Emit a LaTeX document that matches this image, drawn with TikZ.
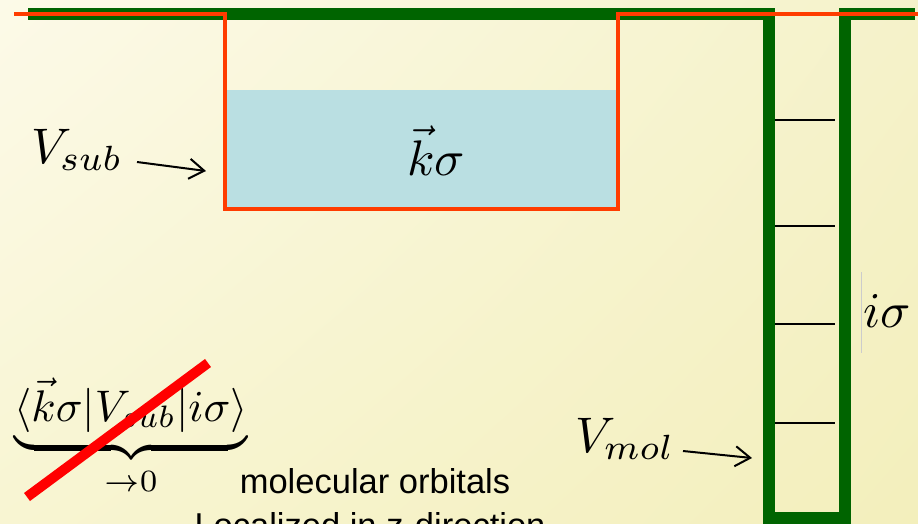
\documentclass[tikz,border=0pt]{standalone}
\usepackage{fontspec}
\setsansfont{Liberation Sans}
\usetikzlibrary{arrows.meta,shadings}
\definecolor{bgTL}{RGB}{252,250,232}
\definecolor{bgTR}{RGB}{245,242,202}
\definecolor{bgBL}{RGB}{248,245,210}
\definecolor{bgBR}{RGB}{243,239,188}
\definecolor{wellgreen}{RGB}{0,100,0}
\definecolor{suborange}{RGB}{255,60,0}
\definecolor{subblue}{RGB}{186,223,226}
\begin{document}
\begin{tikzpicture}[x=1pt,y=-1pt,
  mathlbl/.style={inner sep=0pt, font=\fontsize{10}{12}\selectfont, scale=5, transform shape},
  arr/.style={-{Straight Barb[length=15pt,width=20pt]}, line width=2pt},
  level/.style={line width=#1},
  sanstext/.style={inner sep=0pt, font=\sffamily\fontsize{34.5}{44}\selectfont}]
\useasboundingbox (0,0) rectangle (918,523);
\clip (0,0) rectangle (918,523);
\shade[upper left=bgTL, upper right=bgTR, lower left=bgBL, lower right=bgBR] (0,0) rectangle (918,523);
% substrate states
\fill[subblue] (227,90) rectangle (616,207);
% molecular well
\draw[wellgreen, line width=12pt, miter limit=10]
  (28,14) -- (769,14) -- (769,518) -- (845,518) -- (845,14) -- (915,14);
% substrate potential
\draw[suborange, line width=4pt]
  (14,14) -- (225,14) -- (225,209) -- (618,209) -- (618,14) -- (918,14);
% levels
\draw[level=2.5pt] (775,120) -- (835,120);
\draw[level=1.5pt] (775,226) -- (835,226);
\draw[level=2.5pt] (775,324) -- (835,324);
\draw[level=1.5pt] (775,423) -- (835,423);
\draw[black!20, line width=0.8pt] (861,272) -- (861,353);
% labels
\node[mathlbl, anchor=base] (ks) at (436,175) {$\vec{k}\sigma$};
\node[mathlbl, anchor=base west] (is) at (862,327) {$i\sigma$};
\node[mathlbl, anchor=base west] (Vsub) at (30,163) {$V_{sub}$};
\node[mathlbl, anchor=base west] (Vmol) at (574,452) {$V_{mol}$};
\coordinate (subA) at (137,162);
\coordinate (subB) at (206,171);
\coordinate (molA) at (683,451);
\coordinate (molB) at (752,458);
\draw[arr] (subA) -- (subB);
\draw[arr] (molA) -- (molB);
% matrix element
\node[mathlbl, scale=0.885, anchor=base] (mx) at (131,421)
  {$\underbrace{\langle\vec{k}\sigma|V_{sub}|i\sigma\rangle}_{\to 0}$};
\coordinate (crA) at (27,497);
\coordinate (crB) at (208,363);
\draw[red, line width=10pt] (crA) -- (crB);
% text
\node[sanstext, anchor=base] (mo1) at (375,493) {molecular orbitals};
\node[sanstext, anchor=base] (mo2) at (370,537) {Localized in z-direction};
\end{tikzpicture}
\end{document}
